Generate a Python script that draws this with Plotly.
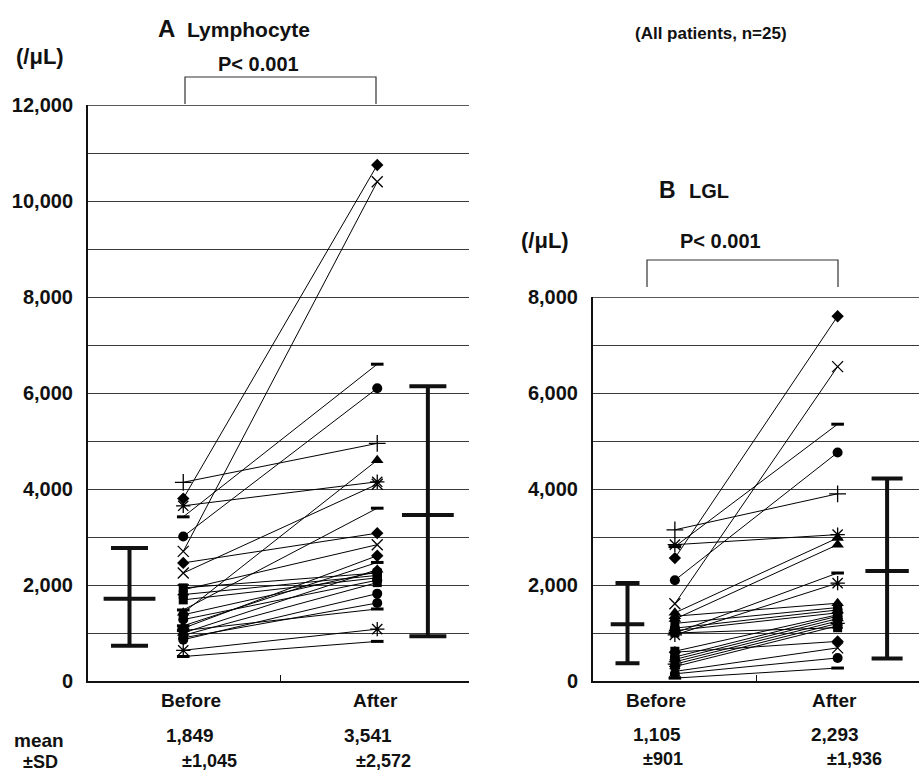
import plotly.graph_objects as go

W, H = 919, 773
FONT = "Liberation Sans, Arial, Helvetica, sans-serif"

categories = ["Before", "After"]
cat_pos = [1, 2]

# ---- Panel A: Lymphocyte (/uL), one pair per patient ----
lym_before = [3800, 2700, 3420, 3010, 4140, 1420, 3650, 2250, 1480, 2460, 1900, 1100, 1150,
              1000, 1940, 1800, 1690, 1280, 950, 860, 1380, 900, 1050, 640, 510]
lym_after = [10750, 10400, 6600, 6100, 4950, 4600, 4150, 4100, 3600, 3080, 2840, 2610, 2470,
             2320, 2250, 2200, 2150, 2100, 2050, 1820, 2280, 1625, 1500, 1080, 825]
lym_symbols = ["diamond", "x", "dash", "circle", "plus", "triangle", "star", "x", "dash", "diamond",
               "x", "diamond", "dash", "triangle", "square", "square", "square", "circle", "square",
               "circle", "circle", "circle", "dash", "star", "dash"]

# ---- Panel B: LGL (/uL) ----
lgl_before = [2560, 1610, 2800, 2100, 3150, 2840, 1420, 1290, 1000, 960, 1350, 1200, 1100,
              1050, 620, 500, 450, 400, 350, 300, 1000, 600, 200, 150, 60]
lgl_after = [7600, 6550, 5350, 4760, 3900, 3050, 2980, 2840, 2250, 2040, 1620, 1530, 1480,
             1420, 1380, 1350, 1300, 1250, 1200, 1150, 1110, 825, 690, 480, 270]
lgl_symbols = ["diamond", "x", "dash", "circle", "plus", "star", "triangle", "triangle", "dash",
               "star", "triangle", "square", "circle", "diamond", "square", "circle", "triangle",
               "square", "star", "circle", "square", "diamond", "x", "circle", "dash"]

# ---- mean +/- SD bars as drawn ----
lym_bar_center = [1715, 3460]
lym_bar_low = [735, 930]
lym_bar_high = [2770, 6140]
lgl_bar_center = [1180, 2290]
lgl_bar_low = [370, 470]
lgl_bar_high = [2040, 4220]

lym_mean_text = ["1,849", "3,541"]
lym_sd_text = ["±1,045", "±2,572"]
lgl_mean_text = ["1,105", "2,293"]
lgl_sd_text = ["±901", "±1,936"]

lym_yticks = list(range(0, 12001, 1000))
lym_yticktext = [f"{v:,}" if v % 2000 == 0 else "" for v in lym_yticks]
lgl_yticks = list(range(0, 8001, 1000))
lgl_yticktext = [f"{v:,}" if v % 2000 == 0 else "" for v in lgl_yticks]


def xp(px):
    return px / W


def yp(py):
    return 1 - py / H


SYM = {
    "diamond": dict(symbol="diamond", size=9.5, line=dict(width=0, color="black")),
    "square": dict(symbol="square", size=9, line=dict(width=0, color="black")),
    "triangle": dict(symbol="triangle-up", size=11, line=dict(width=0, color="black")),
    "circle": dict(symbol="circle", size=10, line=dict(width=0, color="black")),
    "x": dict(symbol="x-thin-open", size=11, line=dict(width=1.3, color="black")),
    "star": dict(symbol="asterisk-open", size=12, line=dict(width=1.3, color="black")),
    "plus": dict(symbol="cross-thin-open", size=12, line=dict(width=1.3, color="black")),
    "dash": dict(symbol="line-ew-open", size=9, line=dict(width=3, color="black")),
}

fig = go.Figure()


def add_panel(before, after, symbols, xa, ya):
    for b, a, s in zip(before, after, symbols):
        m = dict(SYM[s])
        m["color"] = "black"
        fig.add_trace(go.Scatter(
            x=cat_pos, y=[b, a], mode="lines+markers",
            line=dict(color="black", width=1), marker=m,
            xaxis=xa, yaxis=ya, showlegend=False, hoverinfo="skip"))


def add_bars(xs, center, low, high, xa, ya, caps):
    for x, c, lo, hi, cap in zip(xs, center, low, high, caps):
        fig.add_trace(go.Scatter(
            x=[x], y=[c], mode="markers",
            marker=dict(symbol="line-ew-open", size=cap, color="#111",
                        line=dict(width=4, color="#111")),
            error_y=dict(type="data", symmetric=False, array=[hi - c], arrayminus=[c - lo],
                         color="#111", thickness=4, width=cap / 2),
            xaxis=xa, yaxis=ya, showlegend=False, hoverinfo="skip"))


add_panel(lym_before, lym_after, lym_symbols, "x", "y")
add_panel(lgl_before, lgl_after, lgl_symbols, "x2", "y2")
add_bars([0.723, 2.261], lym_bar_center, lym_bar_low, lym_bar_high, "x", "y", [37, 37])
add_bars([0.709, 2.304], lgl_bar_center, lgl_bar_low, lgl_bar_high, "x2", "y2", [24, 31])

axis_common_x = dict(showgrid=False, zeroline=False, showline=True, linecolor="#111", linewidth=2,
                     tickvals=[1.5], ticktext=[""], ticks="inside", ticklen=6, tickcolor="#111",
                     tickwidth=1, fixedrange=True, automargin=False)
axis_common_y = dict(showgrid=True, gridcolor="#3a3a3a", gridwidth=1, zeroline=False, showline=True,
                     linecolor="#111", linewidth=2, ticks="", ticklabelstandoff=9,
                     tickfont=dict(family=FONT, size=20, color="#111", weight="bold"),
                     fixedrange=True, automargin=False)

fig.update_layout(
    width=W, height=H, margin=dict(l=0, r=0, t=0, b=0, pad=0), autosize=False,
    paper_bgcolor="white", plot_bgcolor="white",
    xaxis=dict(domain=[xp(88), xp(469)], range=[0.509, 2.473], anchor="y", **axis_common_x),
    yaxis=dict(domain=[yp(681), yp(105)], range=[0, 12000], anchor="x",
               tickvals=lym_yticks, ticktext=lym_yticktext, **axis_common_y),
    xaxis2=dict(domain=[xp(593), 1.0], range=[0.497, 2.5], anchor="y2", **axis_common_x),
    yaxis2=dict(domain=[yp(681), yp(297)], range=[0, 8000], anchor="x2",
                tickvals=lgl_yticks, ticktext=lgl_yticktext, **axis_common_y),
)

ann = []


def txt(text, x, y, size=19, xanchor="center"):
    ann.append(dict(text=f"<b>{text}</b>", x=xp(x), y=yp(y),
                    xref="paper", yref="paper", xanchor=xanchor, yanchor="middle",
                    showarrow=False, font=dict(family=FONT, size=size, color="#111")))


# titles
txt("A", 166, 28, size=24)
txt("Lymphocyte", 185, 29, size=21, xanchor="left")
txt("(/μL)", 40, 57, size=22)
txt("P&lt; 0.001", 258, 64, size=20)
txt("(All patients, n=25)", 711, 33, size=17)
txt("B", 667, 190, size=23)
txt("LGL", 687, 191, size=20, xanchor="left")
txt("(/μL)", 545, 241, size=22)
txt("P&lt; 0.001", 720, 241, size=20)

# category labels
for c, xa in zip(categories, [191, 375]):
    txt(c, xa, 700)
for c, xa in zip(categories, [656, 834]):
    txt(c, xa, 700)

# mean / SD rows
txt("mean", 39, 740)
txt("±SD", 40, 762, size=18)
for t, xa in zip(lym_mean_text, [190, 368]):
    txt(t, xa, 735)
for t, xa in zip(lym_sd_text, [209, 383]):
    txt(t, xa, 761, size=18)
for t, xa in zip(lgl_mean_text, [657, 835]):
    txt(t, xa, 734)
for t, xa in zip(lgl_sd_text, [663, 854]):
    txt(t, xa, 759, size=18)

fig.update_layout(annotations=ann)

shapes = []
# significance brackets
for (x0, x1, ytop, ybot) in [(185, 376, 77, 104), (647, 838, 260, 287)]:
    shapes.append(dict(type="path", xref="paper", yref="paper",
                       path=f"M {xp(x0)} {yp(ybot)} L {xp(x0)} {yp(ytop)} L {xp(x1)} {yp(ytop)} L {xp(x1)} {yp(ybot)}",
                       line=dict(color="#333", width=1.2)))
# top frame lines of each panel
for xr, yr, ytop in [("x domain", "y", 12000), ("x2 domain", "y2", 8000)]:
    shapes.append(dict(type="line", xref=xr, yref=yr, x0=0, x1=1, y0=ytop, y1=ytop,
                       line=dict(color="#222", width=1.5)))
fig.update_layout(shapes=shapes)

fig.write_html(
    "out.html",
    config={"displayModeBar": False},
    post_script="document.body.style.margin='0';document.body.style.padding='0';"
                "document.documentElement.style.overflow='hidden';",
)
